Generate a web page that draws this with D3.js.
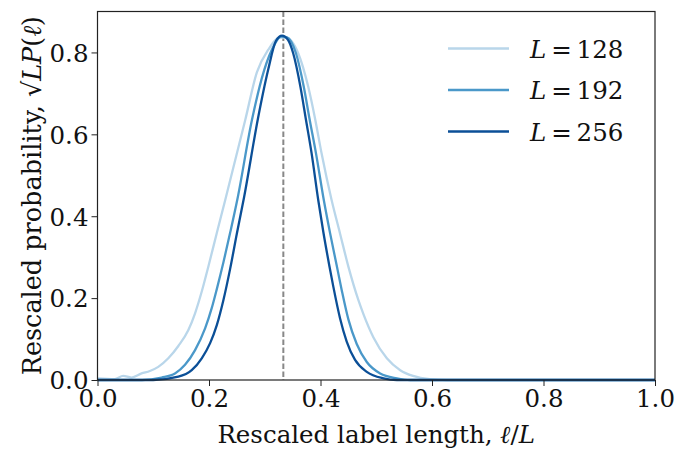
<!DOCTYPE html>
<html>
<head>
<meta charset="utf-8">
<script src="https://cdn.jsdelivr.net/npm/d3@7"></script>
<style>
  body { margin: 0; background: #fff; }
  text { font-family: "DejaVu Serif", serif; fill: #111; }
</style>
</head>
<body>
<div id="chart"></div>
<script>
// x = l/L, y = sqrt(L) P(l)
const x128 = [0.000, 0.031, 0.046, 0.061, 0.079, 0.094, 0.109, 0.127, 0.145, 0.163, 0.175, 0.187, 0.199, 0.214, 0.229, 0.265, 0.286, 0.306, 0.327, 0.338, 0.360, 0.378, 0.390, 0.402, 0.420, 0.435, 0.450, 0.468, 0.477, 0.495, 0.519, 0.543, 0.566, 0.596, 0.626, 0.800, 1.000];
const y128 = [0.004, 0.002, 0.010, 0.006, 0.016, 0.022, 0.032, 0.053, 0.083, 0.122, 0.163, 0.216, 0.278, 0.359, 0.439, 0.635, 0.752, 0.806, 0.836, 0.836, 0.798, 0.716, 0.640, 0.553, 0.439, 0.358, 0.277, 0.195, 0.161, 0.104, 0.053, 0.024, 0.010, 0.002, 0.000, 0.000, 0.000];

const x192 = [0.000, 0.080, 0.115, 0.139, 0.157, 0.175, 0.193, 0.205, 0.214, 0.226, 0.238, 0.251, 0.277, 0.299, 0.317, 0.329, 0.340, 0.356, 0.370, 0.380, 0.392, 0.406, 0.417, 0.429, 0.438, 0.450, 0.465, 0.483, 0.507, 0.537, 0.561, 0.800, 1.000];
const y192 = [0.000, 0.000, 0.006, 0.016, 0.037, 0.073, 0.126, 0.176, 0.222, 0.288, 0.360, 0.442, 0.635, 0.757, 0.818, 0.839, 0.837, 0.798, 0.716, 0.640, 0.553, 0.439, 0.360, 0.280, 0.220, 0.148, 0.088, 0.044, 0.016, 0.004, 0.000, 0.000, 0.000];

const x256 = [0.000, 0.100, 0.145, 0.169, 0.187, 0.202, 0.214, 0.226, 0.238, 0.250, 0.263, 0.288, 0.306, 0.320, 0.331, 0.342, 0.351, 0.364, 0.374, 0.384, 0.396, 0.405, 0.416, 0.423, 0.435, 0.447, 0.462, 0.483, 0.513, 0.537, 0.800, 1.000];
const y256 = [0.000, 0.000, 0.008, 0.024, 0.053, 0.090, 0.134, 0.196, 0.272, 0.358, 0.447, 0.640, 0.757, 0.828, 0.841, 0.830, 0.798, 0.716, 0.635, 0.554, 0.439, 0.362, 0.278, 0.228, 0.151, 0.094, 0.049, 0.020, 0.004, 0.000, 0.000, 0.000];

const seriesNames = ["128", "192", "256"];
const seriesColors = ["#b9d6ea", "#4a98c9", "#0b4f97"];
const xTicks = [0, 0.2, 0.4, 0.6, 0.8, 1.0];
const yTicks = [0, 0.2, 0.4, 0.6, 0.8];
const peakLine = 1 / 3;

const width = 676, height = 450;
const margin = {top: 11.5, right: 21, bottom: 70, left: 97.5};

const svg = d3.select("#chart")
  .append("svg")
  .attr("width", width)
  .attr("height", height);

const xScale = d3.scaleLinear().domain([0, 1]).range([margin.left, width - margin.right]);
const yScale = d3.scaleLinear().domain([0, 0.9]).range([height - margin.bottom, margin.top]);

const series = [
  {name: seriesNames[0], color: seriesColors[0], pts: d3.zip(x128, y128)},
  {name: seriesNames[1], color: seriesColors[1], pts: d3.zip(x192, y192)},
  {name: seriesNames[2], color: seriesColors[2], pts: d3.zip(x256, y256)}
];

// dashed line at l/L = 1/3
svg.append("line")
  .attr("x1", xScale(peakLine)).attr("x2", xScale(peakLine))
  .attr("y1", yScale(0.9)).attr("y2", yScale(0))
  .attr("stroke", "#888")
  .attr("stroke-width", 2)
  .attr("stroke-dasharray", "5.5,2.5");

const line = d3.line()
  .x(d => xScale(d[0]))
  .y(d => yScale(d[1]))
  .curve(d3.curveMonotoneX);

svg.selectAll(".curve")
  .data(series)
  .join("path")
  .attr("class", "curve")
  .attr("fill", "none")
  .attr("stroke", d => d.color)
  .attr("stroke-width", 2.3)
  .attr("d", d => line(d.pts));

// axes
const xAxis = svg.append("g")
  .attr("transform", `translate(0,${yScale(0)})`)
  .call(d3.axisBottom(xScale).tickValues(xTicks).tickFormat(d3.format(".1f")).tickSizeOuter(0).tickSize(6).tickPadding(4));
const yAxis = svg.append("g")
  .attr("transform", `translate(${margin.left},0)`)
  .call(d3.axisLeft(yScale).tickValues(yTicks).tickFormat(d3.format(".1f")).tickSizeOuter(0).tickSize(6).tickPadding(3));

[xAxis, yAxis].forEach(g => {
  g.select(".domain").remove();
  g.selectAll("text").attr("font-family", "DejaVu Serif").attr("font-size", 24.5).attr("fill", "#111");
  g.selectAll("line").attr("stroke", "#222");
});
yAxis.selectAll("text").attr("dy", "0.36em");

// frame
svg.append("rect")
  .attr("x", margin.left).attr("y", margin.top)
  .attr("width", xScale(1) - margin.left)
  .attr("height", yScale(0) - margin.top)
  .attr("fill", "none")
  .attr("stroke", "#222")
  .attr("stroke-width", 1.2);

// axis labels
const xl = svg.append("text")
  .attr("x", (xScale(0) + xScale(1)) / 2)
  .attr("y", 443)
  .attr("text-anchor", "middle")
  .attr("font-size", 24.5);
xl.append("tspan").text("Rescaled label length, ");
xl.append("tspan").attr("font-style", "italic").text("ℓ");
xl.append("tspan").text("/");
xl.append("tspan").attr("font-style", "italic").text("L");

const yl = svg.append("text")
  .attr("transform", `translate(41,${(yScale(0) + yScale(0.9)) / 2}) rotate(-90)`)
  .attr("text-anchor", "middle")
  .attr("font-size", 25.5);
yl.append("tspan").text("Rescaled probability, √");
yl.append("tspan").attr("font-style", "italic").text("LP");
yl.append("tspan").text("(");
yl.append("tspan").attr("font-style", "italic").text("ℓ");
yl.append("tspan").text(")");

// legend
const legend = svg.append("g");
const rows = legend.selectAll("g")
  .data(series)
  .join("g")
  .attr("transform", (d, i) => `translate(448,${48.5 + i * 41.5})`);
rows.append("line")
  .attr("x1", 0).attr("x2", 61)
  .attr("stroke", d => d.color)
  .attr("stroke-width", 2.3);
const lt = rows.append("text")
  .attr("x", 82)
  .attr("y", 9)
  .attr("font-size", 24.5);
lt.append("tspan").attr("font-style", "italic").text("L");
lt.append("tspan").text(d => "\u2009=\u2009" + d.name);
</script>
</body>
</html>
